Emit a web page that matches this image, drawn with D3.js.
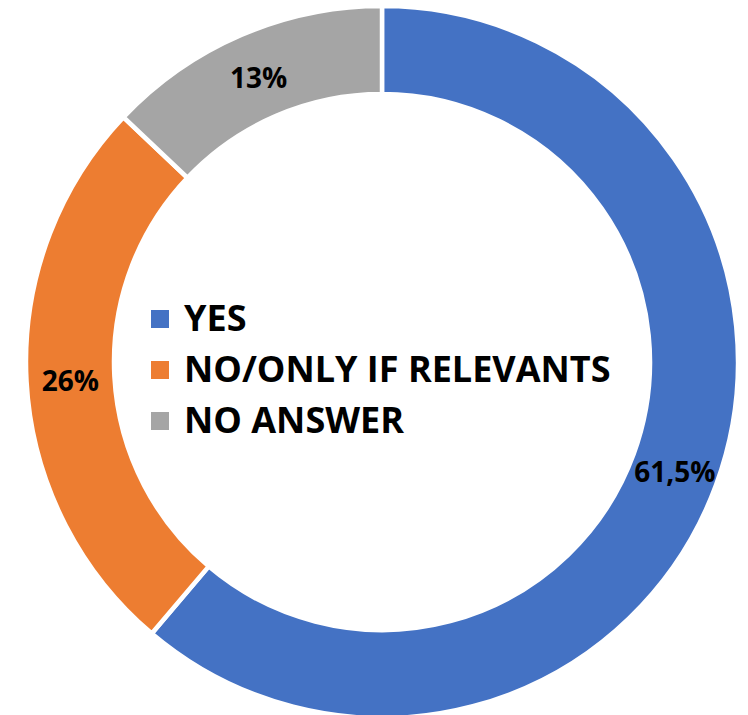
<!DOCTYPE html>
<html>
<head>
<meta charset="utf-8">
<script src="https://cdn.jsdelivr.net/npm/d3@7"></script>
<style>
  html, body { margin: 0; padding: 0; background: #fff; }
  svg { display: block; }
</style>
</head>
<body>
<div id="chart"></div>
<script>
// chart data
const categories = ["YES", "NO/ONLY IF RELEVANTS", "NO ANSWER"];
const values = [61.5, 26, 13];
const valueLabels = ["61,5%", "26%", "13%"];
const colors = ["#4472C4", "#ED7D31", "#A5A5A5"];

const width = 748, height = 715;
const cx = 382, cy = 362;
const outerR = 356, innerR = 268;
const fontFamily = "'Open Sans', Lato, sans-serif";

const svg = d3.select("#chart")
    .append("svg")
        .attr("width", width)
        .attr("height", height);

const g = svg.append("g")
    .attr("transform", `translate(${cx}, ${cy})`);

const pieData = d3.pie()
    .sort(null)
    .value(d => d.value)
    (categories.map((c, i) => ({name: c, value: values[i], label: valueLabels[i], color: colors[i]})));

const arc = d3.arc()
    .innerRadius(innerR)
    .outerRadius(outerR);

g.selectAll("path.slice")
    .data(pieData)
    .enter().append("path")
        .attr("class", "slice")
        .attr("d", arc)
        .attr("fill", d => d.data.color)
        .attr("stroke", "#fff")
        .attr("stroke-width", 4.5);

//data labels sit on the ring centroid
g.selectAll("text.val")
    .data(pieData)
    .enter().append("text")
        .attr("class", "val")
        .attr("x", d => arc.centroid(d)[0])
        .attr("y", d => arc.centroid(d)[1] + 2)
        .attr("dy", "0.36em")
        .attr("text-anchor", "middle")
        .style("font-family", fontFamily)
        .style("font-weight", 700)
        .style("font-size", "28px")
        .attr("fill", "#000")
        .text(d => d.data.label);

//legend in the hole
const legend = svg.append("g")
    .attr("transform", "translate(151, 331)");

const rowStep = 51;
const items = legend.selectAll("g")
    .data(categories)
    .enter().append("g")
        .attr("transform", (d, i) => `translate(0, ${i * rowStep})`);

items.append("rect")
    .attr("x", 0)
    .attr("y", -21)
    .attr("width", 18)
    .attr("height", 18)
    .attr("fill", (d, i) => colors[i]);

items.append("text")
    .attr("x", 33)
    .attr("y", 0)
    .style("font-family", fontFamily)
    .style("font-weight", 700)
    .style("font-size", "36px")
    .attr("fill", "#000")
    .text(d => d);
</script>
</body>
</html>
